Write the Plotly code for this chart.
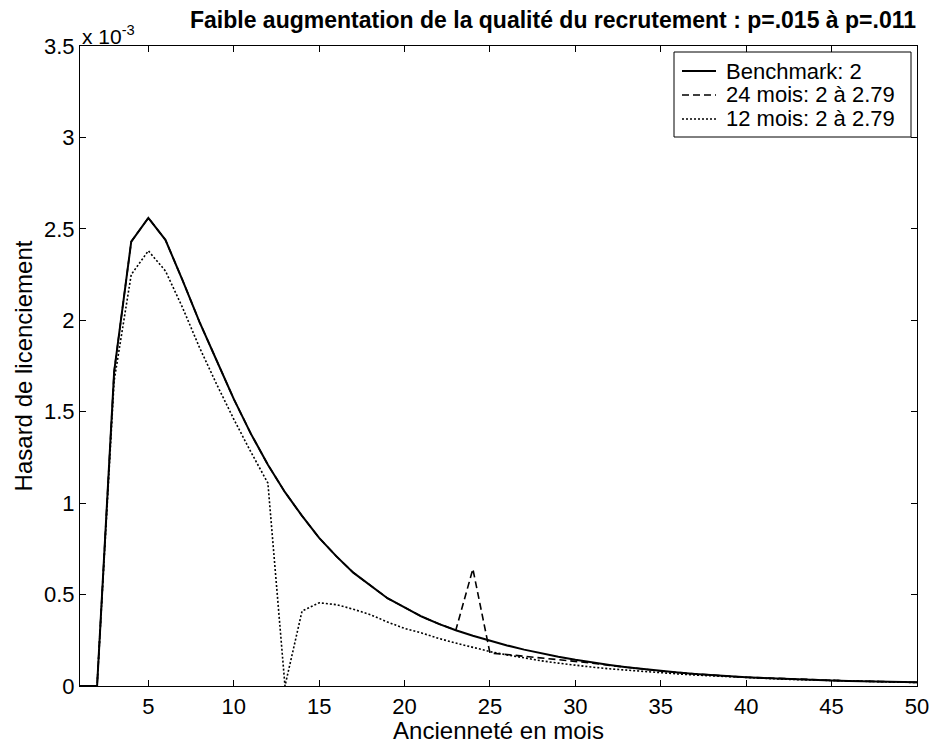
import plotly.graph_objects as go

# Tenure in months
months = list(range(1, 51))

# Layoff hazard, in units of 1e-3
benchmark = [0.0, 0.0, 1.72, 2.43, 2.56, 2.44, 2.22, 1.99, 1.78, 1.57,
             1.38, 1.21, 1.06, 0.93, 0.81, 0.71, 0.62, 0.55, 0.48, 0.43,
             0.38, 0.34, 0.305, 0.275, 0.248, 0.222, 0.199, 0.178, 0.160, 0.143,
             0.128, 0.115, 0.103, 0.092, 0.082, 0.074, 0.066, 0.059, 0.053, 0.048,
             0.044, 0.040, 0.036, 0.033, 0.030, 0.028, 0.026, 0.024, 0.022, 0.020]

mois24 = [0.0, 0.0, 1.72, 2.43, 2.56, 2.44, 2.22, 1.99, 1.78, 1.57,
          1.38, 1.21, 1.06, 0.93, 0.81, 0.71, 0.62, 0.55, 0.48, 0.43,
          0.38, 0.34, 0.305, 0.64, 0.18, 0.172, 0.163, 0.155, 0.147, 0.138,
          0.125, 0.113, 0.102, 0.091, 0.082, 0.074, 0.066, 0.059, 0.053, 0.048,
          0.044, 0.040, 0.036, 0.033, 0.030, 0.028, 0.026, 0.024, 0.022, 0.020]

mois12 = [0.0, 0.0, 1.67, 2.25, 2.38, 2.27, 2.07, 1.85, 1.65, 1.46,
          1.28, 1.11, 0.0, 0.41, 0.455, 0.445, 0.42, 0.39, 0.35, 0.315,
          0.29, 0.26, 0.235, 0.21, 0.188, 0.17, 0.153, 0.138, 0.125, 0.113,
          0.103, 0.094, 0.086, 0.078, 0.072, 0.066, 0.060, 0.055, 0.050, 0.046,
          0.042, 0.038, 0.035, 0.032, 0.029, 0.027, 0.025, 0.023, 0.021, 0.019]

series_names = ["Benchmark: 2", "24 mois: 2 à 2.79", "12 mois: 2 à 2.79"]

x_ticks = [5, 10, 15, 20, 25, 30, 35, 40, 45, 50]
y_ticks = [0, 0.5, 1, 1.5, 2, 2.5, 3, 3.5]
y_tick_labels = ["0", "0.5", "1", "1.5", "2", "2.5", "3", "3.5"]

FONT = "Liberation Sans, Arial, sans-serif"

# Plot-area geometry in pixels (used for the boxed legend)
W, H = 940, 744
ML, MR, MT, MB = 80, 23, 46, 58
PW, PH = W - ML - MR, H - MT - MB


def px(x):
    return (x - ML) / PW


def py(y):
    return (H - MB - y) / PH


line_styles = [dict(color="black", width=2, dash="solid"),
               dict(color="black", width=1.6, dash="7px,4px"),
               dict(color="black", width=1.6, dash="2px,2px")]

fig = go.Figure()
for name, ys, style in zip(series_names, [benchmark, mois24, mois12], line_styles):
    fig.add_trace(go.Scatter(x=months, y=ys, mode="lines", name=name,
                             line=style, showlegend=False))

axis_common = dict(showline=True, linecolor="black", linewidth=1.2, mirror="ticks",
                   ticks="inside", ticklen=6, tickwidth=1, tickcolor="black",
                   showgrid=False, zeroline=False, automargin=False,
                   tickfont=dict(family=FONT, size=22, color="black"))

fig.update_xaxes(range=[1, 50], tickvals=x_ticks,
                 title=dict(text="Ancienneté en mois", standoff=2,
                            font=dict(family=FONT, size=24, color="black")),
                 **axis_common)
fig.update_yaxes(range=[0, 3.5], tickvals=y_ticks, ticktext=y_tick_labels,
                 title=dict(text="Hasard de licenciement", standoff=4,
                            font=dict(family=FONT, size=24, color="black")),
                 **axis_common)

# Exponent marker for the y axis
fig.add_annotation(text="x 10<sup>-3</sup>", xref="paper", yref="paper",
                   x=0, y=1, xanchor="left", yanchor="bottom", showarrow=False,
                   font=dict(family=FONT, size=21, color="black"), yshift=-4)

# Title
fig.add_annotation(text="<b>Faible augmentation de la qualité du recrutement : p=.015 à p=.011</b>",
                   xref="paper", yref="paper", x=px(553), y=1,
                   xanchor="center", yanchor="bottom", yshift=11, showarrow=False,
                   font=dict(family=FONT, size=23, color="black"))

# Boxed legend in the upper-right corner
box_l, box_r, box_t, box_b = 674, 911, 52, 137
row_y = [71, 95, 119]
fig.add_shape(type="rect", xref="paper", yref="paper",
              x0=px(box_l), x1=px(box_r), y0=py(box_b), y1=py(box_t),
              line=dict(color="black", width=1), fillcolor="white", layer="above")
for name, style, ry in zip(series_names, line_styles, row_y):
    fig.add_shape(type="line", xref="paper", yref="paper",
                  x0=px(682), x1=px(716), y0=py(ry), y1=py(ry),
                  line=style, layer="above")
    fig.add_annotation(text=name, xref="paper", yref="paper",
                       x=px(724), y=py(ry), xanchor="left", yanchor="middle",
                       showarrow=False, font=dict(family=FONT, size=22, color="black"))

fig.update_layout(
    width=W, height=H,
    margin=dict(l=ML, r=MR, t=MT, b=MB, autoexpand=False),
    paper_bgcolor="white", plot_bgcolor="white",
    font=dict(family=FONT, color="black"),
    showlegend=False,
)

fig.write_html("out.html")
